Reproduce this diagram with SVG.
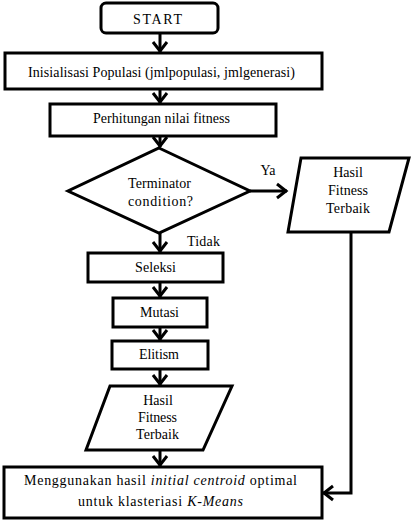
<svg xmlns="http://www.w3.org/2000/svg" width="412" height="522" viewBox="0 0 412 522">
<style>
.box{fill:#fff;stroke:#000;stroke-width:3}
.t{font-family:'Liberation Serif','Times New Roman',serif;font-size:14px;fill:#000;text-anchor:middle}
.c{fill:none;stroke:#000;stroke-width:3}
</style>
<defs>
<marker id="ah" viewBox="-2 -10 14 20" markerUnits="userSpaceOnUse" markerWidth="14" markerHeight="20" refX="10" refY="0" orient="auto">
<path d="M0,-7 L9,0 L0,7" fill="none" stroke="#000" stroke-width="3"/>
</marker>
</defs>
<rect width="412" height="522" fill="#fff"/>
<g id="connectors">
<line class="c" x1="160" y1="33" x2="160" y2="52" marker-end="url(#ah)"/>
<line class="c" x1="160" y1="89" x2="160" y2="103" marker-end="url(#ah)"/>
<line class="c" x1="160" y1="136" x2="160" y2="147" marker-end="url(#ah)"/>
<line class="c" x1="250" y1="191" x2="287" y2="191" marker-end="url(#ah)"/>
<line class="c" x1="160" y1="233" x2="160" y2="252" marker-end="url(#ah)"/>
<line class="c" x1="160" y1="282" x2="160" y2="297" marker-end="url(#ah)"/>
<line class="c" x1="160" y1="327" x2="160" y2="340" marker-end="url(#ah)"/>
<line class="c" x1="160" y1="369" x2="160" y2="385" marker-end="url(#ah)"/>
<line class="c" x1="160" y1="450" x2="160" y2="466" marker-end="url(#ah)"/>
<polyline class="c" points="351,232 351,493 323,493" marker-end="url(#ah)"/>
<text class="t" x="268" y="175">Ya</text>
<text class="t" x="203.5" y="246" textLength="33" lengthAdjust="spacing">Tidak</text>
</g>
<g id="start">
<rect class="box" x="101" y="3" width="117" height="30" rx="5"/>
<text class="t" x="157.5" y="24" textLength="49" lengthAdjust="spacing">START</text>
</g>
<g id="init">
<rect class="box" x="5" y="53" width="317" height="36"/>
<text class="t" x="161.5" y="77" textLength="267" lengthAdjust="spacing">Inisialisasi Populasi (jmlpopulasi, jmlgenerasi)</text>
</g>
<g id="fitness">
<rect class="box" x="50" y="104" width="226" height="32"/>
<text class="t" x="161.5" y="123" textLength="137" lengthAdjust="spacing">Perhitungan nilai fitness</text>
</g>
<g id="decision">
<polygon class="box" points="159,148 250,191 159,233 68,191"/>
<text class="t" x="159.5" y="188" textLength="63" lengthAdjust="spacing">Terminator</text>
<text class="t" x="160.5" y="206" textLength="65" lengthAdjust="spacing">condition?</text>
</g>
<g id="hasil1">
<polygon class="box" points="301,158 409,158 389,232 288,232"/>
<text class="t" x="348" y="177">Hasil</text>
<text class="t" x="348" y="195" textLength="40" lengthAdjust="spacing">Fitness</text>
<text class="t" x="348" y="213" textLength="44" lengthAdjust="spacing">Terbaik</text>
</g>
<g id="seleksi">
<rect class="box" x="88" y="253" width="135" height="29"/>
<text class="t" x="155.5" y="272" textLength="41" lengthAdjust="spacing">Seleksi</text>
</g>
<g id="mutasi">
<rect class="box" x="113" y="298" width="94" height="29"/>
<text class="t" x="159.5" y="317" textLength="39" lengthAdjust="spacing">Mutasi</text>
</g>
<g id="elitism">
<rect class="box" x="112" y="341" width="96" height="28"/>
<text class="t" x="159" y="359" textLength="40" lengthAdjust="spacing">Elitism</text>
</g>
<g id="hasil2">
<polygon class="box" points="110,386 232,386 203,450 86,450"/>
<text class="t" x="158" y="405">Hasil</text>
<text class="t" x="157.5" y="422" textLength="39" lengthAdjust="spacing">Fitness</text>
<text class="t" x="157.5" y="439" textLength="43" lengthAdjust="spacing">Terbaik</text>
</g>
<g id="final">
<rect class="box" x="4" y="467" width="318" height="51"/>
<text class="t" x="160.5" y="485" textLength="273" lengthAdjust="spacing">Menggunakan hasil <tspan font-style="italic">initial centroid</tspan> optimal</text>
<text class="t" x="160.5" y="506" textLength="165" lengthAdjust="spacing">untuk klasteriasi <tspan font-style="italic">K-Means</tspan></text>
</g>
</svg>
